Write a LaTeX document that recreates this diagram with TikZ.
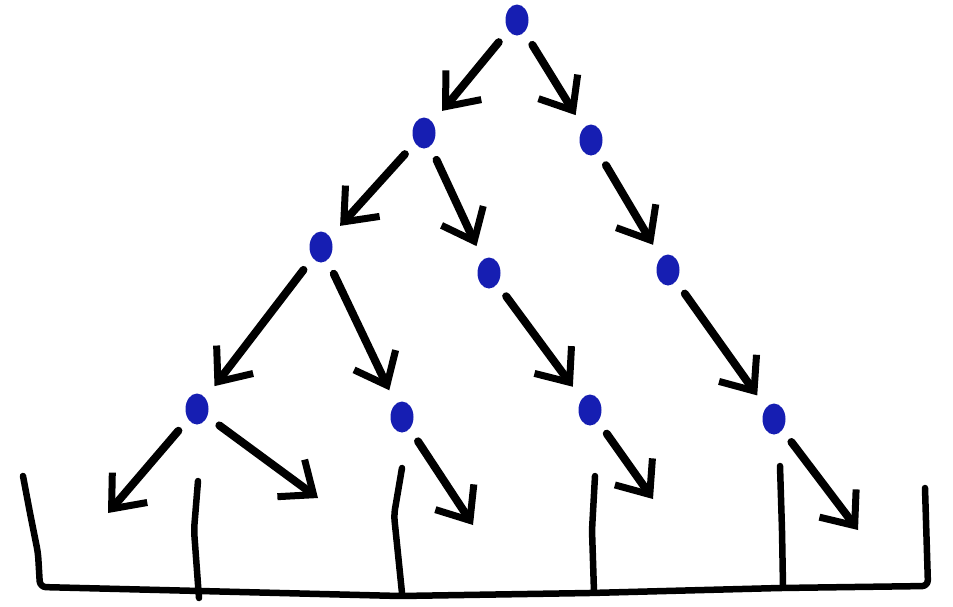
\documentclass[tikz,border=0pt]{standalone}
\usetikzlibrary{arrows.meta,shapes.geometric}
\definecolor{dotblue}{RGB}{22,30,178}
\begin{document}
\begin{tikzpicture}[x=1pt, y=-1pt,
	dot/.style={ellipse, fill=dotblue, minimum width=23pt, minimum height=31pt, inner sep=0pt, outer sep=15pt},
	arr/.style={line width=8pt, line cap=round, -{Straight Barb[length=28pt, width=46pt, line width=7pt]}},
	wall/.style={line width=6.5pt, line cap=round, line join=round, rounded corners=6pt}]
	\useasboundingbox (0,0) rectangle (953,606);
	\foreach \n/\x/\y in {r/517/20, a/424/133, b/591/140, c/321/247, d/489/273, e/668/270, f/197/409, g/402/417, h/590/410, i/774/419} {\node[dot] (\n) at (\x,\y) {};}
	\foreach \n/\x/\y in {l1/108/513, l2/318/498, l3/473/525, l4/653/499, l5/858/530} {\coordinate (\n) at (\x,\y);}
	\foreach \s/\t in {r/a, r/b, a/c, a/d, b/e, c/f, c/g, d/h, e/i, f/l1, f/l2, g/l3, h/l4, i/l5} {\draw[arr] (\s) -- (\t);}
	% floor and walls
	\draw[wall] (23,476) -- (30,513) -- (38,553) -- (40,587) -- (200,591) -- (400,596) -- (590,593) -- (780,588) -- (928,586) -- (925,488);
	\draw[wall] (198,481) -- (194,530) -- (199,598);
	\draw[wall] (402,468) -- (394,515) -- (402,593);
	\draw[wall] (595,476) -- (592,530) -- (594,592);
	\draw[wall] (780,466) -- (782,530) -- (783,587);
\end{tikzpicture}
\end{document}
